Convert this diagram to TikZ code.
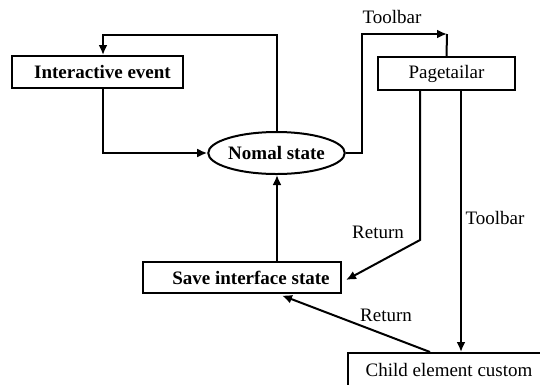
\documentclass[tikz,border=0pt]{standalone}
\usepackage{fontspec}
\setmainfont{Liberation Serif}
\newfontfamily\tnr{Liberation Serif}
\usetikzlibrary{arrows.meta,shapes.geometric,calc}
\begin{document}
\begin{tikzpicture}[x=1pt,y=-1pt,
  every node/.style={font=\tnr\fontsize{19}{21}\selectfont},
  box/.style={draw,line width=2pt,rectangle,inner sep=0pt},
  ell/.style={draw,line width=2pt,ellipse,inner sep=0pt},
  conn/.style={line width=2pt},
  arr/.style={conn,-{Latex[length=10pt,width=9pt]}},
  lbl/.style={inner sep=0pt}]
\useasboundingbox (0,0) rectangle (540,384);
\node[box,minimum width=171pt,minimum height=32pt] (ie) at (97.5,72) {\hspace*{10pt}\bfseries Interactive event};
\node[ell,minimum width=122pt,minimum height=42pt] (ns) at (276.5,153) {\bfseries Nomal state};
\node[box,minimum width=137pt,minimum height=33pt] (pt) at (446.5,73.5) {Pagetailar};
\node[box,minimum width=198pt,minimum height=31pt] (sis) at (242,277.5) {\hspace*{18pt}\bfseries Save interface state};
\node[box,minimum width=202pt,minimum height=42pt,text depth=8pt] (cec) at (449,374) {Child element custom};
\coordinate (tb) at (447,34);
\coordinate (rt) at (420,240);
\node[lbl] (l1) at (392,17) {Toolbar};
\node[lbl] (l2) at (378,232) {Return};
\node[lbl] (l3) at (495,218) {Toolbar};
\node[lbl] (l4) at (386,315) {Return};
\draw[arr] (ns.north) -- (276.5,35) -| ($(ie.north)+(5.5,0)$);
\draw[arr] ($(ie.south)+(5.5,0)$) |- (ns.west);
\draw[arr] (ns.east) -- (362,153) |- (tb);
\draw[conn] (pt.north) -- (tb);
\draw[arr] ($(pt.south)+(-26.5,0)$) -- (rt) -- ($(sis.east)+(4,2.5)$);
\draw[arr] ($(pt.south)+(14.5,0)$) -- ($(cec.north)+(12,0)$);
\draw[arr] ($(cec.north)+(-19,0)$) -- ($(sis.south)+(40,1.5)$);
\draw[arr] ($(sis.north)+(35,0)$) -- ($(ns.south)+(0.5,0)$);
\end{tikzpicture}
\end{document}
